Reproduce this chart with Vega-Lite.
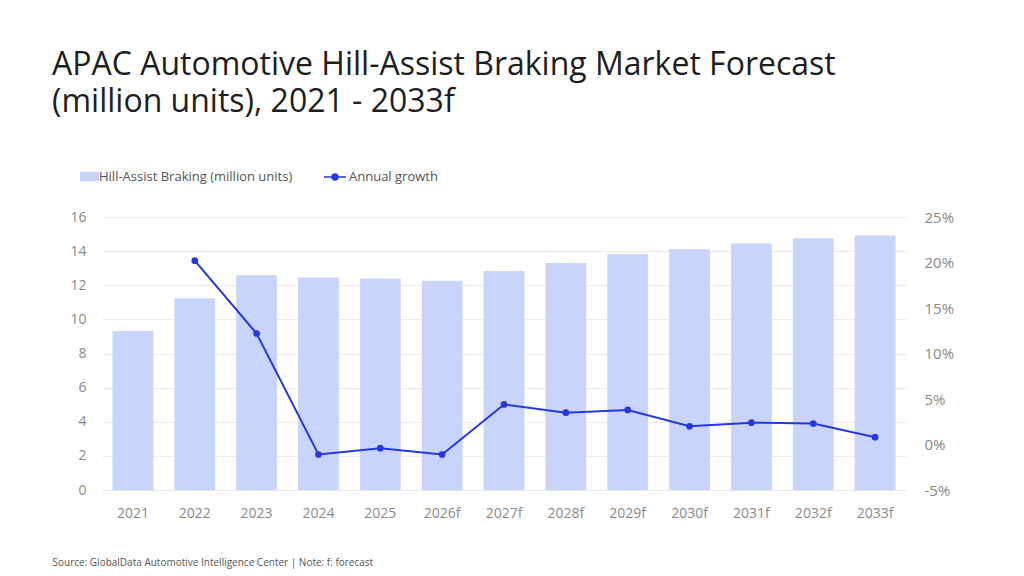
{
  "$schema": "https://vega.github.io/schema/vega-lite/v6.json",
  "width": 804,
  "height": 273,
  "autosize": {"type": "none"},
  "padding": {"left": 102, "top": 217, "right": 118, "bottom": 86},
  "background": "white",
  "config": {
    "font": "Open Sans",
    "view": {"stroke": null}
  },
  "title": {
    "text": ["APAC Automotive Hill-Assist Braking Market Forecast", "(million units), 2021 - 2033f"],
    "anchor": "start",
    "frame": "group",
    "font": "Open Sans",
    "fontSize": 32,
    "fontWeight": 400,
    "color": "#1e1e1e",
    "lineHeight": 37,
    "dx": -50,
    "dy": -42
  },
  "data": {
    "values": [
      {"year": "2021", "units": 9.32, "growth": null},
      {"year": "2022", "units": 11.24, "growth": 20.2},
      {"year": "2023", "units": 12.58, "growth": 12.2},
      {"year": "2024", "units": 12.46, "growth": -1.1},
      {"year": "2025", "units": 12.4, "growth": -0.4},
      {"year": "2026f", "units": 12.27, "growth": -1.1},
      {"year": "2027f", "units": 12.84, "growth": 4.4},
      {"year": "2028f", "units": 13.31, "growth": 3.5},
      {"year": "2029f", "units": 13.81, "growth": 3.8},
      {"year": "2030f", "units": 14.11, "growth": 2.0},
      {"year": "2031f", "units": 14.44, "growth": 2.4},
      {"year": "2032f", "units": 14.75, "growth": 2.3},
      {"year": "2033f", "units": 14.91, "growth": 0.8}
    ]
  },
  "encoding": {
    "x": {
      "field": "year",
      "type": "ordinal",
      "sort": null,
      "scale": {"paddingInner": 0.34, "paddingOuter": 0.17},
      "axis": {
        "labelAngle": 0,
        "labelFontSize": 14,
        "labelColor": "#8a8a8a",
        "labelPadding": 16,
        "ticks": false,
        "domain": true,
        "domainColor": "#e8e8e8",
        "title": "Source: GlobalData Automotive Intelligence Center | Note: f: forecast",
        "titleFontSize": 10,
        "titleFontWeight": 400,
        "titleColor": "#555555",
        "titleAnchor": "start",
        "titleAlign": "left",
        "titleX": -50,
        "titleY": 67
      }
    }
  },
  "layer": [
    {
      "mark": {"type": "bar", "color": "#C9D4FC"},
      "encoding": {
        "y": {
          "field": "units",
          "type": "quantitative",
          "scale": {"domain": [0, 16]},
          "axis": {
            "title": null,
            "values": [0, 2, 4, 6, 8, 10, 12, 14, 16],
            "labelFontSize": 14,
            "labelColor": "#8a8a8a",
            "labelPadding": 16,
            "ticks": false,
            "domain": false,
            "grid": true,
            "gridColor": "#ebebeb"
          }
        },
        "fill": {
          "datum": "Hill-Assist Braking (million units)",
          "scale": {"range": ["#C9D4FC"]},
          "legend": {
            "orient": "none",
            "legendX": -20,
            "legendY": -48,
            "title": null,
            "symbolType": "M-1.3,-0.65H1.3V0.65H-1.3Z",
            "symbolSize": 213,
            "symbolStrokeWidth": 0,
            "labelFontSize": 13,
            "labelColor": "#555555",
            "labelOffset": 2,
            "labelLimit": 400
          }
        }
      }
    },
    {
      "mark": {"type": "line", "color": "#2638E0", "strokeWidth": 2},
      "encoding": {
        "y": {
          "field": "growth",
          "type": "quantitative",
          "scale": {"domain": [-5, 25]},
          "axis": {
            "orient": "right",
            "title": null,
            "values": [-5, 0, 5, 10, 15, 20, 25],
            "labelExpr": "datum.value + '%'",
            "labelFontSize": 15,
            "labelColor": "#8a8a8a",
            "labelPadding": 18,
            "ticks": false,
            "domain": false,
            "grid": false
          }
        },
        "stroke": {
          "datum": "Annual growth",
          "scale": {"range": ["#2638E0"]},
          "legend": {
            "orient": "none",
            "legendX": 221,
            "legendY": -52,
            "title": null,
            "symbolType": "M-1,0H1M0.28,0A0.28,0.28,0,1,1,-0.28,0A0.28,0.28,0,1,1,0.28,0Z",
            "symbolSize": 484,
            "symbolFillColor": "#2638E0",
            "symbolStrokeWidth": 1.5,
            "labelFontSize": 13,
            "labelColor": "#555555",
            "labelOffset": 2,
            "labelLimit": 300
          }
        }
      }
    },
    {
      "mark": {"type": "circle", "color": "#2638E0", "opacity": 1, "size": 45},
      "encoding": {
        "y": {"field": "growth", "type": "quantitative", "scale": {"domain": [-5, 25]}, "axis": null}
      }
    }
  ],
  "resolve": {"scale": {"y": "independent", "fill": "independent", "stroke": "independent"}}
}
